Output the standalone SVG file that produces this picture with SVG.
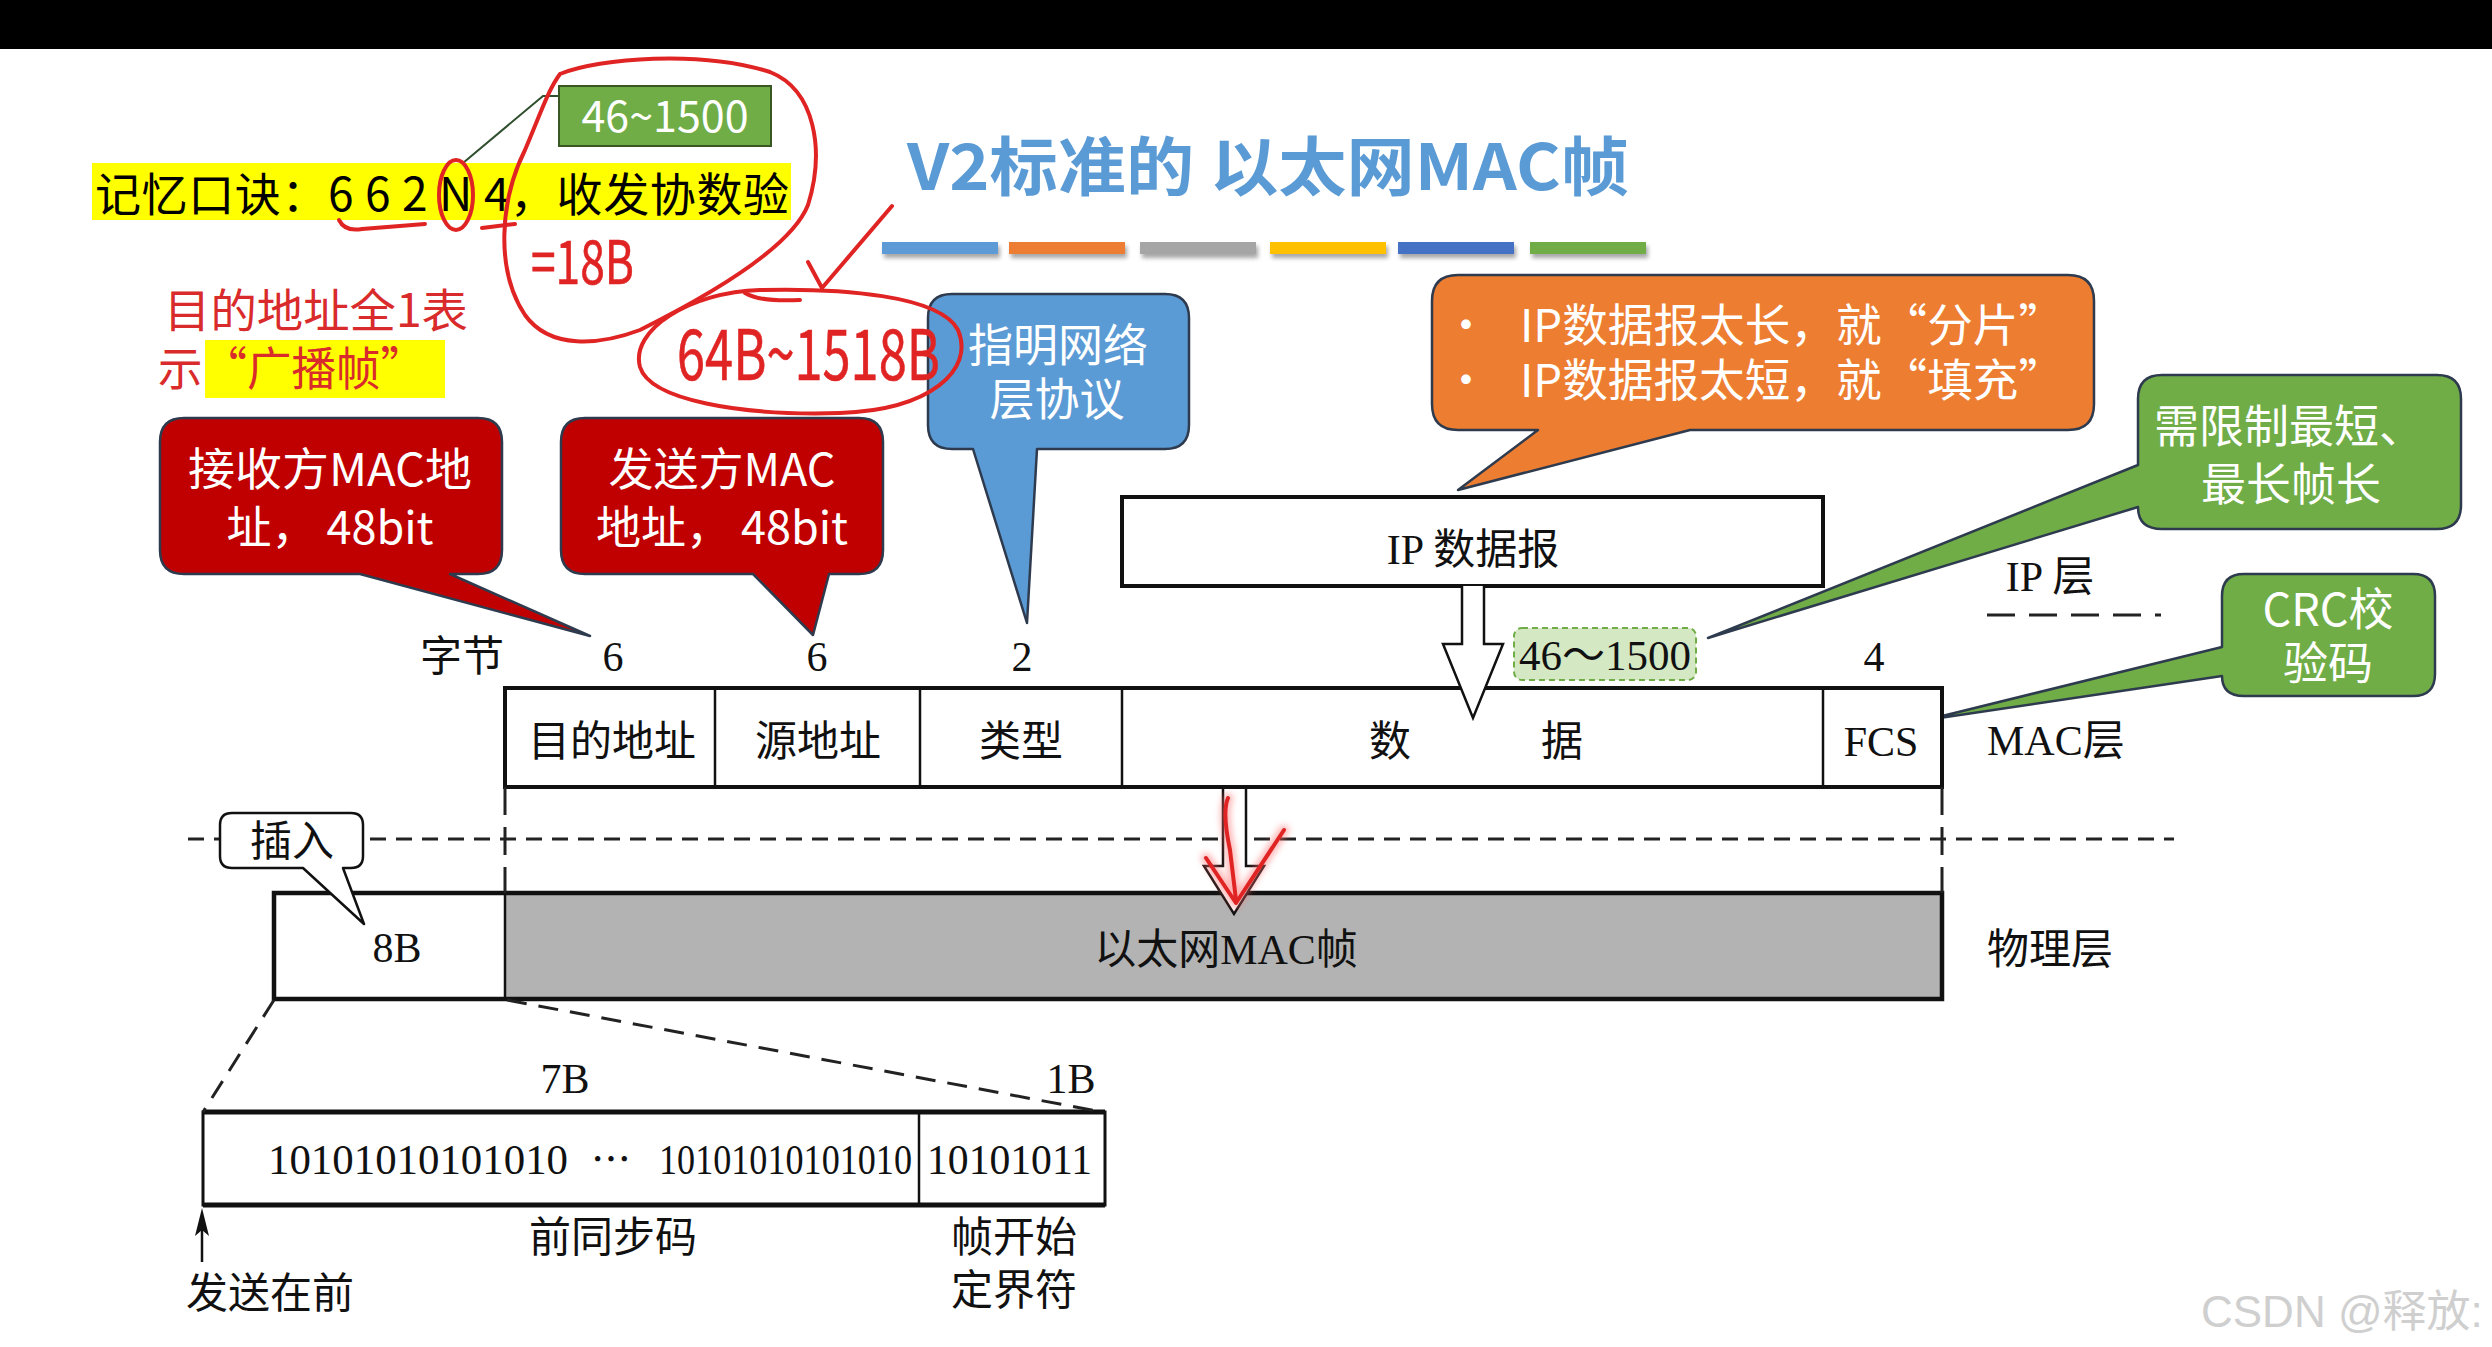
<svg xmlns="http://www.w3.org/2000/svg" width="2492" height="1347" viewBox="0 0 2492 1347">
<defs>
<filter id="sh" x="-10%" y="-50%" width="130%" height="250%"><feDropShadow dx="2" dy="4" stdDeviation="2" flood-opacity="0.35"/></filter>
<filter id="glow" x="-50%" y="-50%" width="200%" height="200%"><feGaussianBlur stdDeviation="3"/></filter>
</defs>
<style>
.sans{font-family:"Noto Sans CJK SC","Noto Sans",sans-serif;}
.serif{font-family:"Liberation Serif","Noto Sans CJK SC",serif;fill:#111;}
.cw{fill:#fff;font-size:45px;text-anchor:middle;}
.cl{stroke:#2e3b4e;stroke-width:2.5;stroke-linejoin:round;}
.box{fill:#fff;stroke:#111;stroke-width:4;}
.div{stroke:#111;stroke-width:2.5;}
.lbl{font-size:42px;text-anchor:middle;}
.hw{fill:none;stroke:#e02424;stroke-width:4;stroke-linecap:round;stroke-linejoin:round;}
.hwt{fill:#e02424;stroke:#e02424;stroke-width:0.6;font-family:"Noto Sans CJK SC",sans-serif;font-weight:400;}
.dash{stroke:#222;stroke-width:3;fill:none;}
</style>
<rect x="0" y="0" width="2492" height="1347" fill="#fff"/>
<rect x="0" y="0" width="2492" height="49" fill="#000"/>

<!-- title -->
<g id="title">
<text class="sans" x="907" y="190" font-size="64" font-weight="700" fill="#5b9bd5" textLength="722" lengthAdjust="spacingAndGlyphs">V2标准的 以太网MAC帧</text>
<g filter="url(#sh)">
<rect x="882" y="242" width="116" height="12" fill="#5b9bd5"/>
<rect x="1009" y="242" width="116" height="12" fill="#ed7d31"/>
<rect x="1140" y="242" width="116" height="12" fill="#a5a5a5"/>
<rect x="1270" y="242" width="116" height="12" fill="#ffc000"/>
<rect x="1398" y="242" width="116" height="12" fill="#4472c4"/>
<rect x="1530" y="242" width="116" height="12" fill="#70ad47"/>
</g>
</g>

<!-- mnemonic -->
<g id="mnemonic">
<rect x="92" y="163" width="699" height="57" fill="#ffff00"/>
<text class="sans" x="95" y="211" font-size="46" fill="#000" textLength="694" lengthAdjust="spacing">记忆口诀：6 6 2 N 4，收发协数验</text>
<polyline points="559,96 543,96 463,163" fill="none" stroke="#2f4f2f" stroke-width="2"/>
<rect x="559" y="86" width="212" height="60" fill="#70ad47" stroke="#385723" stroke-width="2"/>
<text class="sans" x="665" y="132" font-size="43" fill="#fff" text-anchor="middle">46~1500</text>
</g>

<!-- broadcast note -->
<g id="broadcast-note">
<rect x="205" y="340" width="240" height="58" fill="#ffff00"/>
<text class="sans" x="164" y="327" font-size="46" fill="#d92b2b" textLength="304" lengthAdjust="spacingAndGlyphs">目的地址全1表</text>
<text class="sans" x="158" y="385" font-size="46" fill="#d92b2b" textLength="267" lengthAdjust="spacingAndGlyphs">示“广播帧”</text>
</g>

<!-- callouts -->
<g id="callout-dst">
<path class="cl" fill="#c00000" d="M184,418 H478 Q502,418 502,442 V550 Q502,574 478,574 H450 L590,636 L360,574 H184 Q160,574 160,550 V442 Q160,418 184,418 Z"/>
<text class="sans cw" x="330" y="486" textLength="284" lengthAdjust="spacingAndGlyphs">接收方MAC地</text>
<text class="sans cw" x="330" y="544">址， 48bit</text>
</g>
<g id="callout-src">
<path class="cl" fill="#c00000" d="M585,418 H859 Q883,418 883,442 V550 Q883,574 859,574 H829 L813,635 L753,574 H585 Q561,574 561,550 V442 Q561,418 585,418 Z"/>
<text class="sans cw" x="722" y="486">发送方MAC</text>
<text class="sans cw" x="722" y="544">地址， 48bit</text>
</g>
<g id="callout-type">
<path class="cl" fill="#5b9bd5" d="M952,294 H1165 Q1189,294 1189,318 V425 Q1189,449 1165,449 H1037 L1027,623 L973,449 H952 Q928,449 928,425 V318 Q928,294 952,294 Z"/>
<text class="sans cw" x="1058" y="362" font-size="46">指明网络</text>
<text class="sans cw" x="1057" y="416" font-size="46">层协议</text>
</g>
<g id="callout-ip">
<path class="cl" fill="#ed7d31" d="M1458,275 H2068 Q2094,275 2094,301 V404 Q2094,430 2068,430 H1690 L1458,490 L1538,430 H1458 Q1432,430 1432,404 V301 Q1432,275 1458,275 Z"/>
<text class="sans cw" x="1466" y="342">•</text>
<text class="sans cw" x="1466" y="397">•</text>
<text class="sans" x="1520" y="342" font-size="45" fill="#fff" textLength="544" lengthAdjust="spacingAndGlyphs">IP数据报太长，就“分片”</text>
<text class="sans" x="1520" y="397" font-size="45" fill="#fff" textLength="544" lengthAdjust="spacingAndGlyphs">IP数据报太短，就“填充”</text>
</g>
<g id="callout-len">
<path class="cl" fill="#70ad47" d="M2162,375 H2437 Q2461,375 2461,399 V505 Q2461,529 2437,529 H2162 Q2138,529 2138,507 L1708,638 L2138,465 V399 Q2138,375 2162,375 Z"/>
<text class="sans cw" x="2289" y="443">需限制最短、</text>
<text class="sans cw" x="2291" y="501">最长帧长</text>
</g>
<g id="callout-crc">
<path class="cl" fill="#70ad47" d="M2244,574 H2413 Q2435,574 2435,596 V674 Q2435,696 2413,696 H2244 Q2222,696 2222,676 L1926,720 L2222,647 V596 Q2222,574 2244,574 Z"/>
<text class="sans cw" x="2328" y="626">CRC校</text>
<text class="sans cw" x="2328" y="680">验码</text>
</g>

<!-- IP datagram -->
<g id="ip-datagram">
<rect class="box" x="1122" y="497" width="701" height="89"/>
<text class="serif lbl" x="1473" y="564">IP 数据报</text>
</g>
<g id="ip-layer">
<text class="serif lbl" x="2050" y="591">IP 层</text>
<line class="dash" x1="1987" y1="615" x2="2161" y2="615" stroke-dasharray="28 14"/>
</g>

<!-- byte counts -->
<g id="byte-counts" class="serif">
<text class="lbl" x="462" y="671">字节</text>
<text class="lbl" x="613" y="671" font-size="44">6</text>
<text class="lbl" x="817" y="671" font-size="44">6</text>
<text class="lbl" x="1022" y="671" font-size="44">2</text>
<text class="lbl" x="1874" y="671" font-size="44">4</text>
</g>

<!-- MAC frame -->
<g id="mac-frame">
<rect class="box" x="505" y="688" width="1437" height="99"/>
<line class="div" x1="715" y1="688" x2="715" y2="787"/>
<line class="div" x1="920" y1="688" x2="920" y2="787"/>
<line class="div" x1="1122" y1="688" x2="1122" y2="787"/>
<line class="div" x1="1823" y1="688" x2="1823" y2="787"/>
<text class="serif lbl" x="612" y="756">目的地址</text>
<text class="serif lbl" x="818" y="756">源地址</text>
<text class="serif lbl" x="1021" y="756">类型</text>
<text class="serif lbl" x="1390" y="756">数</text>
<text class="serif lbl" x="1562" y="756">据</text>
<text class="serif lbl" x="1881" y="756">FCS</text>
<text class="serif" x="1987" y="755" font-size="42">MAC层</text>
</g>

<!-- payload size -->
<g id="payload-size">
<rect x="1514" y="628" width="182" height="52" rx="8" fill="#d5e8c4" stroke="#70ad47" stroke-width="2" stroke-dasharray="6 4"/>
<text class="serif" x="1605" y="670" font-size="42" text-anchor="middle" fill="#333" textLength="172" lengthAdjust="spacingAndGlyphs">46～1500</text>
</g>

<!-- physical frame -->
<g id="phy-frame">
<rect x="505" y="893" width="1437" height="106" fill="#b3b3b3"/>
<rect x="274" y="893" width="1668" height="106" fill="none" stroke="#111" stroke-width="4.5"/>
<line class="div" x1="505" y1="893" x2="505" y2="999"/>
<text class="serif lbl" x="397" y="962">8B</text>
<text class="serif lbl" x="1226" y="964">以太网MAC帧</text>
<text class="serif" x="1987" y="964" font-size="42">物理层</text>
</g>

<!-- preamble -->
<g id="preamble">
<rect x="203" y="1112" width="902" height="93" fill="#fff" stroke="#111" stroke-width="3"/>
<line x1="203" y1="1112" x2="1105" y2="1112" stroke="#111" stroke-width="5"/>
<line x1="203" y1="1205" x2="1105" y2="1205" stroke="#111" stroke-width="5"/>
<line class="div" x1="919" y1="1112" x2="919" y2="1205"/>
<text class="serif" x="268" y="1174" font-size="42" textLength="300" lengthAdjust="spacingAndGlyphs">10101010101010</text>
<text x="611" y="1174" font-size="40" text-anchor="middle" fill="#111" font-family="Noto Sans CJK SC, sans-serif">⋯</text>
<text class="serif" x="659" y="1174" font-size="42" textLength="253" lengthAdjust="spacingAndGlyphs">10101010101010</text>
<text class="serif" x="927" y="1174" font-size="42" textLength="165" lengthAdjust="spacingAndGlyphs">10101011</text>
<text class="serif lbl" x="565" y="1093">7B</text>
<text class="serif lbl" x="1071" y="1093">1B</text>
<text class="serif lbl" x="613" y="1252">前同步码</text>
<text class="serif lbl" x="1014" y="1252">帧开始</text>
<text class="serif lbl" x="1014" y="1305">定界符</text>
<text class="serif lbl" x="270" y="1308">发送在前</text>
</g>

<!-- insert callout -->
<g id="callout-insert">
<line class="dash" x1="188" y1="839" x2="2174" y2="839" stroke-dasharray="16 10"/>
<path fill="#fff" stroke="#111" stroke-width="2.5" stroke-linejoin="round" d="M232,813 H351 Q363,813 363,825 V856 Q363,868 351,868 H343 L364,924 L303,868 H232 Q220,868 220,856 V825 Q220,813 232,813 Z"/>
<text class="serif lbl" x="292" y="856" font-size="40">插入</text>
</g>

<!-- connectors -->
<g id="connectors">
<path d="M1462,586 V644 H1443 L1473,718 L1503,644 H1484 V586" fill="#fff" stroke="#111" stroke-width="2.5" stroke-linejoin="miter"/>
<line class="dash" x1="505" y1="787" x2="505" y2="893" stroke-dasharray="28 12"/>
<line class="dash" x1="1942" y1="787" x2="1942" y2="893" stroke-dasharray="28 12"/>
<path d="M1223,789 V866 H1204 L1234,914 L1264,866 H1246 V789" fill="#fff" stroke="#111" stroke-width="2.5"/>
<line class="dash" x1="274" y1="1000" x2="203" y2="1112" stroke-dasharray="20 12"/>
<line class="dash" x1="507" y1="1000" x2="1102" y2="1112" stroke-dasharray="20 12"/>
<line x1="202" y1="1262" x2="202" y2="1228" stroke="#111" stroke-width="2.5"/>
<path d="M202,1208 L195,1236 L202,1230 L209,1236 Z" fill="#111"/>
</g>

<!-- handwritten annotations -->
<g id="annotations">
<path class="hw" d="M560,74 C600,58 700,50 770,72 C815,90 825,150 808,205 C790,250 700,300 640,330 C600,345 550,350 525,315 C495,270 500,200 525,150 C540,115 548,90 560,74"/>
<ellipse class="hw" cx="456" cy="195" rx="17" ry="35" stroke-width="3.5"/>
<path class="hw" d="M339,220 Q345,232 362,229 L425,224"/>
<path class="hw" d="M482,228 L515,224"/>
<text class="hwt" x="531" y="284" font-size="60" textLength="103" lengthAdjust="spacingAndGlyphs">=18B</text>
<path class="hw" d="M808,262 L822,288 L892,206"/>
<path class="hw" d="M640,367 C630,330 690,292 760,290 C840,288 940,295 958,330 C975,370 930,410 840,413 C740,416 650,400 640,367 Z"/>
<path class="hw" d="M745,293 Q760,302 800,300" stroke-width="3"/>
<text class="hwt" x="677" y="380" font-size="70" textLength="263" lengthAdjust="spacingAndGlyphs">64B~1518B</text>
<g>
<path d="M1228,798 Q1222,812 1230,850 L1236,900 M1206,858 L1236,903 L1284,830" fill="none" stroke="#ff6b6b" stroke-width="10" stroke-linecap="round" stroke-linejoin="round" opacity="0.5" filter="url(#glow)"/>
<path class="hw" d="M1228,798 Q1222,812 1230,850 L1236,900 M1206,858 L1236,903 L1284,830"/>
</g>
</g>

<text x="2201" y="1327" font-size="44" fill="#cfcfcf" font-family="Liberation Sans, Noto Sans CJK SC, sans-serif">CSDN @释放:</text>
</svg>
